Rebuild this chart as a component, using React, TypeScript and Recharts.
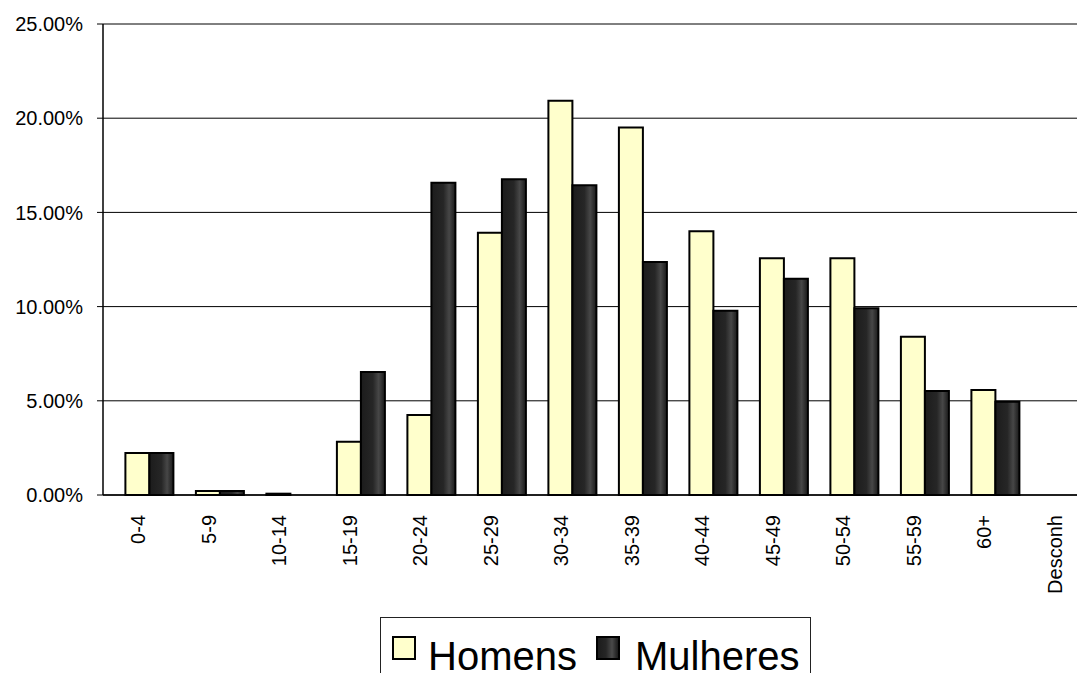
import React from 'react';
import { BarChart, Bar, XAxis, YAxis, CartesianGrid } from 'recharts';

const categories = ['0-4', '5-9', '10-14', '15-19', '20-24', '25-29', '30-34', '35-39', '40-44', '45-49', '50-54', '55-59', '60+', 'Desconh'];
const homens = [2.23, 0.21, 0.07, 2.83, 4.25, 13.92, 20.93, 19.5, 14.0, 12.56, 12.56, 8.4, 5.57, 0];
const mulheres = [2.23, 0.21, 0, 6.53, 16.58, 16.76, 16.44, 12.37, 9.78, 11.48, 9.91, 5.52, 4.95, 0];
const yTicks = [0, 5, 10, 15, 20, 25];
const edgeTicks = [0, 1, 2, 3, 4, 5, 6, 7, 8, 9, 10, 11, 12, 13, 14];
const seriesNames = ['Homens', 'Mulheres'];

const data = categories.map((c, i) => ({ group: c, homens: homens[i], mulheres: mulheres[i] }));

const FONT = '"Liberation Sans", Arial, sans-serif';
const HOMENS_FILL = '#FFFFCC';

const XTick = (props: any) => {
  const { x, y, payload } = props;
  return (
    <text
      x={x}
      y={y}
      transform={`rotate(-90 ${x} ${y})`}
      textAnchor="end"
      dominantBaseline="central"
      fontFamily={FONT}
      fontSize={20}
      fill="#000"
    >
      {payload.value}
    </text>
  );
};

export default function App() {
  return (
    <div style={{ position: 'absolute', left: 0, top: 0, width: 1077, height: 673, overflow: 'hidden', background: '#fff' }}>
      <BarChart
        width={1100}
        height={620}
        data={data}
        margin={{ top: 24, right: 10, bottom: 0, left: 0 }}
        barCategoryGap={0}
        barGap={0}
      >
        <defs>
          <linearGradient id="mulheresGrad" x1="0" y1="0" x2="1" y2="0">
            <stop offset="0%" stopColor="#1c1c1c" />
            <stop offset="50%" stopColor="#262626" />
            <stop offset="74%" stopColor="#474747" />
            <stop offset="90%" stopColor="#2a2a2a" />
            <stop offset="100%" stopColor="#1c1c1c" />
          </linearGradient>
        </defs>
        <CartesianGrid xAxisId="cat" vertical={false} stroke="#000" strokeWidth={1} />
        <XAxis
          xAxisId="edges"
          type="number"
          domain={[0, 14]}
          ticks={edgeTicks}
          allowDataOverflow
          height={0}
          tick={false}
          axisLine={false}
          tickLine={{ stroke: '#000', strokeWidth: 1 }}
          tickSize={6}
        />
        <XAxis
          xAxisId="cat"
          dataKey="group"
          type="category"
          interval={0}
          height={125}
          axisLine={{ stroke: '#000', strokeWidth: 1.5 }}
          tickLine={false}
          tickSize={6}
          tickMargin={14}
          tick={<XTick />}
        />
        <YAxis
          width={103}
          domain={[0, 25]}
          ticks={yTicks}
          interval={0}
          tickFormatter={(v: number) => v.toFixed(2) + '%'}
          axisLine={{ stroke: '#000', strokeWidth: 1.5 }}
          tickLine={{ stroke: '#000', strokeWidth: 1 }}
          tickSize={6}
          tickMargin={14}
          tick={{ fontFamily: FONT, fontSize: 20, fill: '#000' }}
        />
        <Bar xAxisId="cat" dataKey={() => 0} barSize={22.4} fill="none" stroke="none" legendType="none" isAnimationActive={false} />
        <Bar xAxisId="cat" dataKey="homens" name={seriesNames[0]} barSize={24} fill={HOMENS_FILL} stroke="#000" strokeWidth={2} isAnimationActive={false} />
        <Bar xAxisId="cat" dataKey="mulheres" name={seriesNames[1]} barSize={24} fill="url(#mulheresGrad)" stroke="#000" strokeWidth={2} isAnimationActive={false} />
      </BarChart>
      <div
        style={{
          position: 'absolute',
          left: 380,
          top: 617,
          width: 431,
          height: 80,
          boxSizing: 'border-box',
          border: '1px solid #222',
          background: '#fff',
          fontFamily: FONT,
          fontSize: 40,
          color: '#000',
        }}
      >
        <span style={{ position: 'absolute', left: 11, top: 18, width: 20, height: 20, border: '2px solid #000', background: HOMENS_FILL }} />
        <span style={{ position: 'absolute', left: 47, top: 23, lineHeight: '30px', whiteSpace: 'nowrap' }}>{seriesNames[0]}</span>
        <span style={{ position: 'absolute', left: 215, top: 18, width: 20, height: 20, border: '2px solid #000', background: 'linear-gradient(to right, #1c1c1c 0%, #262626 40%, #4a4a4a 70%, #2a2a2a 90%, #1c1c1c 100%)' }} />
        <span style={{ position: 'absolute', left: 254, top: 23, lineHeight: '30px', whiteSpace: 'nowrap' }}>{seriesNames[1]}</span>
      </div>
    </div>
  );
}
